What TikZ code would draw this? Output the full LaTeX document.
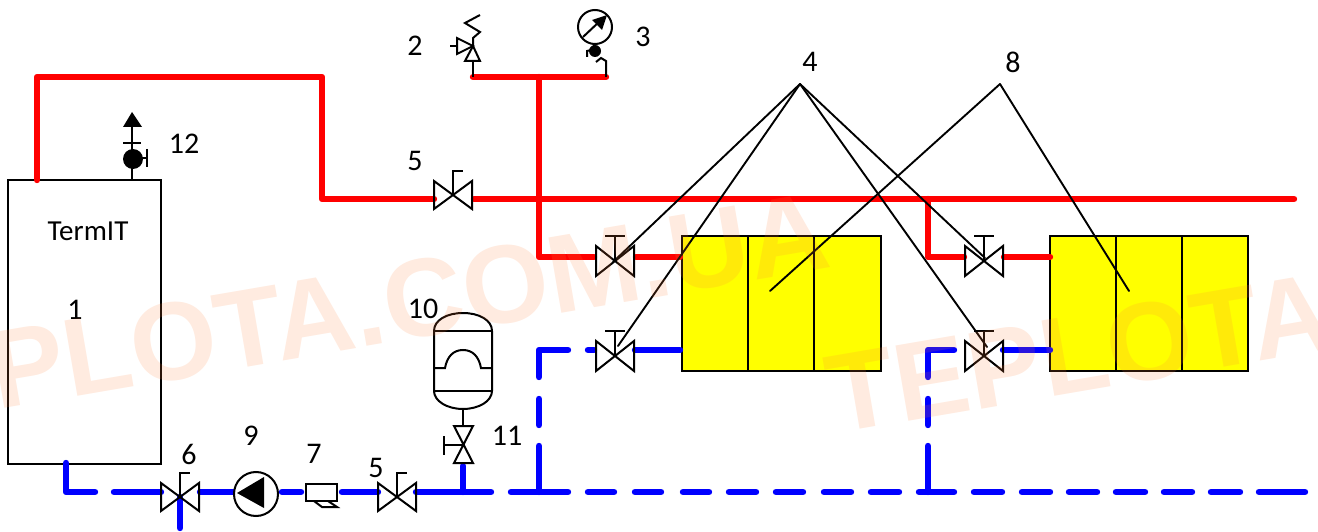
\documentclass[tikz,border=0pt]{standalone}
\usepackage{fontspec}
\setmainfont{Carlito}
\newfontfamily\wmfont{Liberation Sans}
\tikzset{
  x=1pt,y=-1pt,
  redpipe/.style={draw={rgb,255:red,255;green,0;blue,0},line width=6.4pt,line cap=round,line join=round},
  bluepipe/.style={draw={rgb,255:red,0;green,0;blue,255},line width=6.4pt,line cap=round,line join=round},
  sym/.style={draw=black,line width=2pt,line join=miter},
  leader/.style={draw=black,line width=1.9pt,line cap=round},
  body/.style={draw=black,line width=2pt},
  radiator/.style={draw=black,line width=2pt,fill={rgb,255:red,255;green,255;blue,0}},
  lab/.style={font=\fontsize{30}{32}\selectfont,inner sep=0pt,text=black},
  wm/.style={font=\wmfont\bfseries\fontsize{111}{115}\selectfont,inner sep=0pt,anchor=base west,rotate=9.7,
    text={rgb,255:red,255;green,128;blue,60},text opacity=.16},
  gatevalve/.pic={
    \draw[sym] (-19,-15) -- (19,15) -- (19,-15) -- (-19,15) -- cycle;
    \draw[sym] (0,0) -- (0,-25) (-10,-25) -- (10,-25);
  },
  gammavalve/.pic={
    \draw[sym] (-19,-14) -- (19,14) -- (19,-14) -- (-19,14) -- cycle;
    \draw[sym] (0,0) -- (0,-24) -- (10,-24);
  }
}
\begin{document}
\begin{tikzpicture}
\useasboundingbox (0,0) rectangle (1318,532);
% --- pipe end points
\coordinate (bOut) at (37,180);
\coordinate (c1) at (37,77);
\coordinate (c2) at (322,77);
\coordinate (c3) at (322,199);
\coordinate (v1L) at (434,199);
\coordinate (v1R) at (474,199);
\coordinate (mainEnd) at (1294,199);
\coordinate (t2) at (473,77);
\coordinate (t3) at (606,77);
\coordinate (tee) at (539,77);
\coordinate (rA) at (539,257);
\coordinate (rAv) at (594,257);
\coordinate (rAvo) at (636,257);
\coordinate (rAr) at (680,257);
\coordinate (tee2) at (928,199);
\coordinate (rB) at (928,257);
\coordinate (rBv) at (964,257);
\coordinate (rBvo) at (1004,257);
\coordinate (rBr) at (1050,257);
% --- boiler
\node[body,minimum width=153pt,minimum height=284pt,inner sep=0pt,anchor=north west] (boiler) at (7,179) {};
% --- radiators
\node[radiator,minimum width=199pt,minimum height=135pt,inner sep=0pt,anchor=north west] (radA) at (681,235) {};
\draw[body] (748,236) -- (748,371) (814,236) -- (814,371);
\node[radiator,minimum width=198pt,minimum height=135pt,inner sep=0pt,anchor=north west] (radB) at (1049,235) {};
\draw[body] (1116,236) -- (1116,371) (1182,236) -- (1182,371);
% --- red pipes
\draw[redpipe] (bOut) -- (c1) -- (c2) -- (c3) -- (v1L);
\draw[redpipe] (v1R) -- (mainEnd);
\draw[redpipe] (t2) -- (t3);
\draw[redpipe] (tee) -- (rA) -- (rAv);
\draw[redpipe] (rAvo) -- (rAr);
\draw[redpipe] (tee2) -- (rB) -- (rBv);
\draw[redpipe] (rBvo) -- (rBr);
% --- blue pipes
\draw[bluepipe] (66,463) -- (66,492) -- (95,492);
\foreach \a/\b in {114/161,200/233,282/301,342/378,416/491,511/568,588/614,635/661,683/709,729/756,776/803,824/851,871/899,919/954,974/1002,1022/1050,1069/1097,1116/1145,1164/1192,1211/1240,1259/1305}
  \draw[bluepipe] (\a,492) -- (\b,492);
\draw[bluepipe] (463,466) -- (463,492);
\draw[bluepipe] (180,497) -- (180,528);
\foreach \X/\E in {539/568,928/954}{
  \draw[bluepipe] (\X,377) -- (\X,350) -- (\E,350);
  \draw[bluepipe] (\X,399) -- (\X,425);
  \draw[bluepipe] (\X,446) -- (\X,492);
}
\draw[bluepipe] (588,350) -- (594,350);
\draw[bluepipe] (635,350) -- (680,350);
\draw[bluepipe] (1003,350) -- (1050,350);
% --- valves
\pic at (453,195) {gammavalve};
\pic at (397,497) {gammavalve};
\pic at (180,497) {gammavalve};
\pic at (615,261) {gatevalve};
\pic at (615,356) {gatevalve};
\pic at (984,261) {gatevalve};
\pic at (984,356) {gatevalve};
% --- item 11 valve
\draw[sym] (454,426) -- (473,463) -- (454,463) -- (473,426) -- cycle;
\draw[sym] (463,445) -- (444,445) (444,436) -- (444,455);
\draw[sym] (463,409) -- (463,426);
% --- expansion vessel
\draw[sym] (434,331) .. controls (434,320) and (447,313) .. (463,313) .. controls (479,313) and (492,320) .. (492,331) -- (492,391) .. controls (492,401) and (479,409) .. (463,409) .. controls (447,409) and (434,401) .. (434,391) -- cycle;
\draw[sym] (434,331) -- (492,331) (434,391) -- (492,391);
\draw[sym] (434,368) -- (445,368) .. controls (447,357) and (453,350) .. (463,350) .. controls (473,350) and (479,357) .. (481,368) -- (492,368);
% --- pump
\draw[sym,fill=white] (256,494) circle[radius=22pt];
\fill[black] (237,493) -- (264,477) -- (264,508) -- cycle;
% --- filter
\draw[sym,fill=white] (306,484) rectangle (337,501);
\draw[sym] (314,501) -- (322,507) -- (337,507) -- (328,501);
% --- item 2 safety valve
\draw[sym] (473,77) -- (473,61);
\draw[sym] (465,61) -- (480,61) -- (473,46) -- cycle;
\draw[sym] (457,38) -- (457,54) -- (473,46) -- cycle;
\draw[sym] (450,46) -- (457,46);
\draw[sym] (473,46) -- (473,38) -- (480,32) -- (465,23) -- (480,15);
% --- item 3 gauge
\draw[sym] (595,27) circle[radius=17pt];
\draw[sym] (583,37) -- (600,21);
\fill[black] (607,15) -- (592,20) -- (602,30) -- cycle;
\draw[sym] (594,44) -- (594,47);
\fill[black] (595,51) circle[radius=6pt];
\draw[sym] (606,77) -- (606,61) -- (601,58) -- (596,62);
\draw[sym] (587,57) -- (587,51) -- (591,50);
% --- item 12 air vent
\draw[sym] (132,180) -- (132,125);
\fill[black] (132,112) -- (123,127) -- (142,127) -- cycle;
\draw[sym] (123,143) -- (141,143);
\fill[black] (133,159) circle[radius=10pt];
\draw[sym] (140,158) -- (147,158) (147,149) -- (147,167);
% --- labels
\node[lab] (l2) at (415,46) {2};
\node[lab] (l3) at (643,37) {3};
\node[lab] (l4) at (810,62) {4};
\node[lab] (l8) at (1013,62) {8};
\node[lab] (l5a) at (415,161) {5};
\node[lab] (l12) at (184,144) {12};
\node[lab,font=\fontsize{29}{31}\selectfont] (lT) at (88,231) {TermIT};
\node[lab] (l1) at (75,310) {1};
\node[lab] (l10) at (423,309) {10};
\node[lab] (l11) at (507,436) {11};
\node[lab] (l6) at (189,454) {6};
\node[lab] (l9) at (251,436) {9};
\node[lab] (l7) at (314,454) {7};
\node[lab] (l5b) at (376,468) {5};
% --- leaders
\coordinate (ap4) at (800,84);
\coordinate (ap8) at (1000,84);
\draw[leader] (ap4) -- (613,262);
\draw[leader] (ap4) -- (618,346);
\draw[leader] (ap4) -- (985,258);
\draw[leader] (ap4) -- (987,347);
\draw[leader] (ap8) -- (770,291);
\draw[leader] (ap8) -- (1129,291);
% --- watermark
\begin{scope}
\clip (0,0) rectangle (1318,532);
\node[wm] (wm1) at (-3,410) {PLOTA.COM.UA};
\node[wm] (wm2) at (834,434) {TEPLOTA};
\end{scope}
\end{tikzpicture}
\end{document}
